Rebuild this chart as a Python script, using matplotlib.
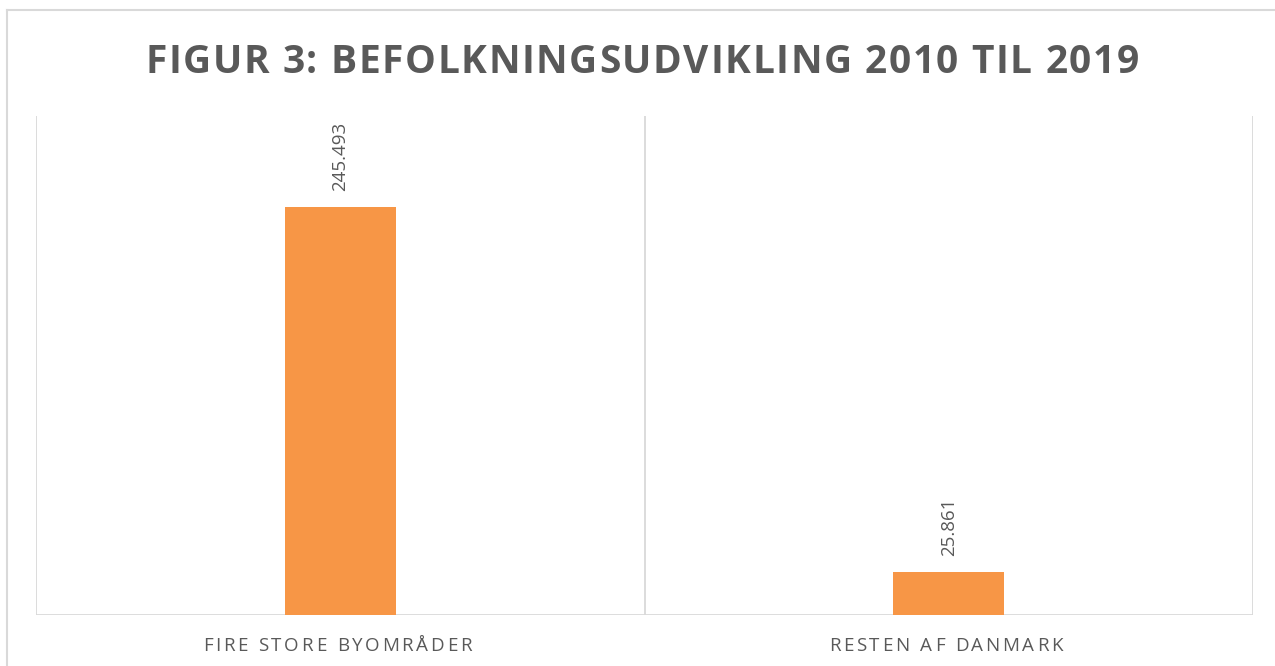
import matplotlib.pyplot as plt
from matplotlib.lines import Line2D

categories = ["FIRE STORE BYOMRÅDER", "RESTEN AF DANMARK"]
values = [245493, 25861]
value_labels = ["245.493", "25.861"]
title = "FIGUR 3: BEFOLKNINGSUDVIKLING 2010 TIL 2019"

W, H = 1275, 666
GRAY = "#595959"
GRID = "#d9d9d9"
BAR = "#f79646"

plt.rcParams["font.family"] = ["Open Sans", "DejaVu Sans"]

fig = plt.figure(figsize=(W / 100, H / 100), dpi=100)
renderer = fig.canvas.get_renderer()


def spaced_text(xc, y, s, spacing, **kw):
    # matplotlib has no letter-spacing, so place characters one by one (pixel coords)
    widths = []
    for ch in s:
        t = fig.text(0, 0, ch, **kw)
        widths.append(t.get_window_extent(renderer).width)
        t.remove()
    total = sum(widths) + spacing * (len(s) - 1)
    x = xc - total / 2
    for ch, w in zip(s, widths):
        fig.text(x / W, 1 - y / H, ch, ha="left", va="baseline", **kw)
        x += w + spacing


# outer frame of the chart area (runs off right and bottom edges)
fig.add_artist(Line2D([7 / W, 7 / W], [0, 1 - 10 / H], color=GRID, lw=1.5, transform=fig.transFigure))
fig.add_artist(Line2D([7 / W, 1], [1 - 10 / H, 1 - 10 / H], color=GRID, lw=1.5, transform=fig.transFigure))

left, right, top, bottom = 36, 1253, 116, 615
ax = fig.add_axes([left / W, 1 - bottom / H, (right - left) / W, (bottom - top) / H])
x = range(len(categories))
ax.bar(x, values, width=0.183, color=BAR, zorder=3)
ax.set_xlim(-0.5, len(categories) - 0.5)
ax.set_ylim(0, 300000)
for b in [i - 0.5 for i in range(len(categories) + 1)]:
    ax.axvline(b, color=GRID, lw=1.3, zorder=1)
ax.axhline(0, color=GRID, lw=2, zorder=2)
for s in ax.spines.values():
    s.set_visible(False)
ax.set_xticks([])
ax.set_yticks([])

for i, (v, lab) in enumerate(zip(values, value_labels)):
    ax.annotate(lab, (i, v), xytext=(0, 16), textcoords="offset pixels",
                rotation=90, ha="center", va="bottom", color=GRAY, fontsize=13.5)

# x category labels
for i, c in enumerate(categories):
    xc = left + (i + 0.5) * (right - left) / len(categories) - 3
    spaced_text(xc, 651, c, 2.7, color=GRAY, fontsize=13.5)

spaced_text(642, 73, title, 1.6, color=GRAY, fontsize=28, fontweight="bold")

fig.savefig("out.png", dpi=100)
